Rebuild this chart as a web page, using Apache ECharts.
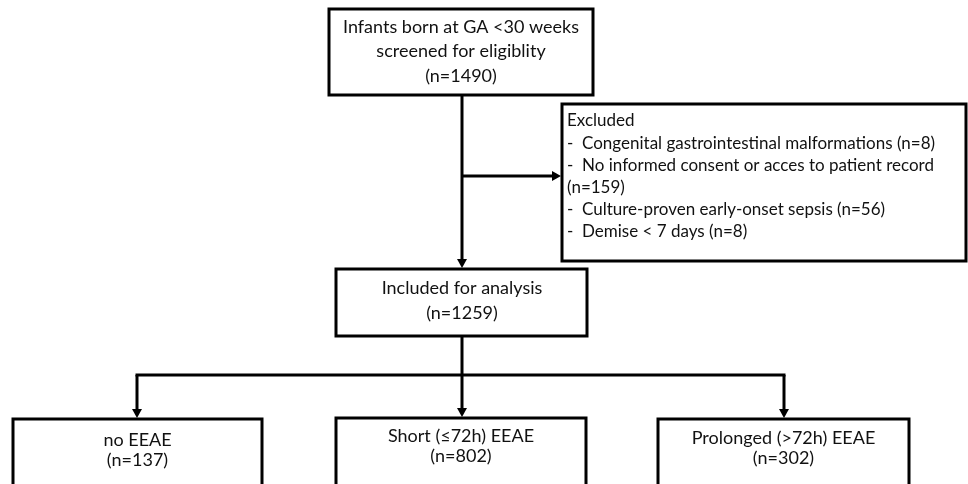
<!DOCTYPE html>
<html>
<head>
<meta charset="utf-8">
<script src="https://cdn.jsdelivr.net/npm/echarts@6/dist/echarts.min.js"></script>
<style>
html, body { margin: 0; padding: 0; background: #fff; }
#flow { width: 968px; height: 484px; }
</style>
</head>
<body>
<div id="flow"></div>
<script>
// flow chart content
var screenedLines = ['Infants born at GA <30 weeks', 'screened for eligiblity'];
var screenedN = 1490;
var excludedTitle = 'Excluded';
var excludedReasons = [
	'Congenital gastrointestinal malformations',
	'No informed consent or acces to patient record',
	'Culture-proven early-onset sepsis',
	'Demise < 7 days'
];
var excludedN = [8, 159, 56, 8];
var includedLabel = 'Included for analysis';
var includedN = 1259;
var groupLabels = ['no EEAE', 'Short (≤72h) EEAE', 'Prolonged (>72h) EEAE'];
var groupN = [137, 802, 302];

var FONT = 'Lato, "Open Sans", sans-serif';
var W = 968, H = 484;

var measureCtx = document.createElement('canvas').getContext('2d');
function textWidth(s, size) {
	measureCtx.font = size + 'px ' + FONT;
	return measureCtx.measureText(s).width;
}
function nText(n) { return '(n=' + n + ')'; }

// word wrap for the exclusion list: first line indented after the dash
function wrapReason(text, size, firstWidth, restWidth) {
	var words = text.split(' ');
	var out = [], cur = '';
	words.forEach(function(w) {
		var test = cur ? cur + ' ' + w : w;
		var maxW = out.length ? restWidth : firstWidth;
		if (cur && textWidth(test, size) > maxW) {
			out.push(cur);
			cur = w;
		} else {
			cur = test;
		}
	});
	out.push(cur);
	return out;
}

var exSize = 17;
var exLines = [{ text: excludedTitle, dash: false }];
excludedReasons.forEach(function(r, i) {
	var parts = wrapReason(r + ' ' + nText(excludedN[i]), exSize, 378, 393);
	parts.forEach(function(p, j) {
		exLines.push({ text: p, dash: j === 0 });
	});
});

// layout (pixel space of the hidden axes)
var nodes = [
	{ box: [329, 9, 593, 95], cx: 461, firstY: 27, lineH: 24.5, size: 18,
		lines: screenedLines.concat([nText(screenedN)]) },
	{ box: [562, 104, 966, 261], left: 567, indent: 582, firstY: 121, lineH: 22.2, size: exSize,
		lines: exLines },
	{ box: [336, 269, 587, 336], cx: 462, firstY: 288, lineH: 25, size: 18,
		lines: [includedLabel, nText(includedN)] }
];
var groupBoxes = [[13, 419, 262, 520], [336, 418, 586, 520], [658, 419, 909, 520]];
var groupTextY = [440, 436, 438];
groupLabels.forEach(function(g, i) {
	var b = groupBoxes[i];
	nodes.push({ box: b, cx: (b[0] + b[2]) / 2, firstY: groupTextY[i], lineH: 20.5, size: 18,
		lines: [g, nText(groupN[i])] });
});

var edges = [
	{ pts: [[462, 95], [462, 268]], arrow: true },
	{ pts: [[462, 176], [561, 176]], arrow: true },
	{ pts: [[462, 336], [462, 375]], arrow: false },
	{ pts: [[135.5, 375], [785.5, 375]], arrow: false },
	{ pts: [[137, 375], [137, 418]], arrow: true },
	{ pts: [[462, 375], [462, 417]], arrow: true },
	{ pts: [[784, 375], [784, 418]], arrow: true }
];

var chart = echarts.init(document.getElementById('flow'));

function renderEdge(params, api) {
	var e = edges[api.value(0)];
	var pts = e.pts.map(function(p) { return api.coord(p); });
	var children = [];
	if (e.arrow) {
		var a = pts[pts.length - 2], b = pts[pts.length - 1];
		var dx = b[0] - a[0], dy = b[1] - a[1];
		var len = Math.sqrt(dx * dx + dy * dy);
		var ux = dx / len, uy = dy / len;
		var L = 9, hw = 5;
		var base = [b[0] - ux * L, b[1] - uy * L];
		pts[pts.length - 1] = [base[0] + ux, base[1] + uy];
		children.push({
			type: 'polygon',
			shape: { points: [b, [base[0] - uy * hw, base[1] + ux * hw], [base[0] + uy * hw, base[1] - ux * hw]] },
			style: { fill: '#000' }
		});
	}
	children.unshift({
		type: 'polyline',
		shape: { points: pts },
		style: { stroke: '#000', lineWidth: 3, fill: null }
	});
	return { type: 'group', children: children };
}

function renderNode(params, api) {
	var n = nodes[api.value(0)];
	var p0 = api.coord([n.box[0], n.box[1]]);
	var p1 = api.coord([n.box[2], n.box[3]]);
	var children = [{
		type: 'rect',
		shape: { x: p0[0], y: p0[1], width: p1[0] - p0[0], height: p1[1] - p0[1] },
		style: { fill: '#fff', stroke: '#000', lineWidth: 3 }
	}];
	n.lines.forEach(function(l, i) {
		var y = n.firstY + i * n.lineH;
		var font = n.size + 'px ' + FONT;
		if (typeof l === 'string') {
			var p = api.coord([n.cx, y]);
			children.push({ type: 'text', style: { text: l, x: p[0], y: p[1], font: font, fill: '#111',
				textAlign: 'center', textVerticalAlign: 'middle' } });
		} else {
			if (l.dash) {
				var pd = api.coord([n.left, y]);
				children.push({ type: 'text', style: { text: '-', x: pd[0], y: pd[1], font: font, fill: '#111',
					textAlign: 'left', textVerticalAlign: 'middle' } });
			}
			var pt = api.coord([l.dash ? n.indent : n.left, y]);
			children.push({ type: 'text', style: { text: l.text, x: pt[0], y: pt[1], font: font, fill: '#111',
				textAlign: 'left', textVerticalAlign: 'middle' } });
		}
	});
	return { type: 'group', children: children };
}

chart.setOption({
	animation: false,
	backgroundColor: '#fff',
	grid: { left: 0, right: 0, top: 0, bottom: 0 },
	xAxis: { type: 'value', min: 0, max: W, show: false },
	yAxis: { type: 'value', min: 0, max: H, inverse: true, show: false },
	series: [{
		type: 'custom',
		renderItem: renderEdge,
		data: edges.map(function(e, i) { return [i]; }),
		silent: true
	}, {
		type: 'custom',
		renderItem: renderNode,
		data: nodes.map(function(n, i) { return [i]; }),
		silent: true
	}]
});
</script>
</body>
</html>
